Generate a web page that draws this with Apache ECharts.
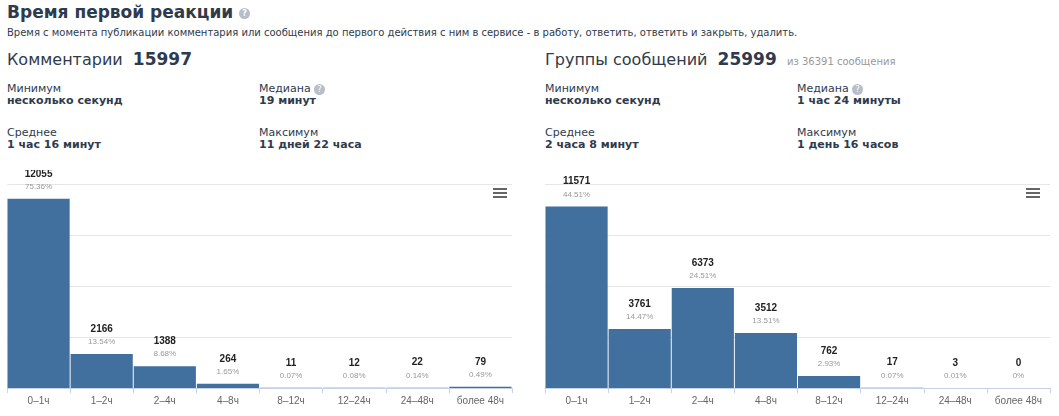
<!DOCTYPE html>
<html><head><meta charset="utf-8">
<script src="https://cdn.jsdelivr.net/npm/echarts@6/dist/echarts.min.js"></script>
<style>
body{margin:0;width:1059px;height:416px;background:#fff;font-family:Tahoma,"DejaVu Sans",sans-serif;color:#2f3b4c;position:relative;overflow:hidden}
.a{position:absolute;white-space:nowrap}
.h{font-size:17px;font-weight:bold;color:#2f3b4c}
.q{display:inline-block;width:11px;height:11px;border-radius:50%;background:#b8bec7;color:#fff;font-size:8px;text-align:center;line-height:11px;vertical-align:middle}
.sub{font-size:10px}
.t{font-size:16px}.t b{font-size:17px}
.t span{font-size:10px;color:#999}
.l{font-size:11px}.v{font-size:11px;font-weight:bold}
.menu{position:absolute;width:14px}
.menu i{display:block;height:2px;background:#666;margin-bottom:2px}
.c{position:absolute;top:170px;height:246px}
</style></head><body>
<div class="a h" style="left:7px;top:2px">Время первой реакции <span class="q">?</span></div>
<div class="a sub" style="left:7px;top:27px">Время с момента публикации комментария или сообщения до первого действия с ним в сервисе - в работу, ответить, ответить и закрыть, удалить.</div>
<div class="a t" style="left:7px;top:49px">Комментарии&nbsp; <b>15997</b></div>
<div class="a t" style="left:545px;top:49px">Группы сообщений&nbsp; <b>25999</b> &nbsp;<span>из 36391 сообщения</span></div>
<div class="a l" style="left:7px;top:82px">Минимум</div><div class="a v" style="left:7px;top:94px">несколько секунд</div>
<div class="a l" style="left:259px;top:82px">Медиана <span class="q">?</span></div><div class="a v" style="left:259px;top:94px">19 минут</div>
<div class="a l" style="left:7px;top:126px">Среднее</div><div class="a v" style="left:7px;top:138px">1 час 16 минут</div>
<div class="a l" style="left:259px;top:126px">Максимум</div><div class="a v" style="left:259px;top:138px">11 дней 22 часа</div>
<div class="a l" style="left:545px;top:82px">Минимум</div><div class="a v" style="left:545px;top:94px">несколько секунд</div>
<div class="a l" style="left:797px;top:82px">Медиана <span class="q">?</span></div><div class="a v" style="left:797px;top:94px">1 час 24 минуты</div>
<div class="a l" style="left:545px;top:126px">Среднее</div><div class="a v" style="left:545px;top:138px">2 часа 8 минут</div>
<div class="a l" style="left:797px;top:126px">Максимум</div><div class="a v" style="left:797px;top:138px">1 день 16 часов</div>
<div id="c1" class="c" style="left:0;width:520px"></div>
<div id="c2" class="c" style="left:538px;width:520px"></div>
<div class="menu" style="left:493px;top:188px"><i></i><i></i><i></i></div>
<div class="menu" style="left:1026px;top:188px"><i></i><i></i><i></i></div>
<script>
var categories = ['0–1ч', '1–2ч', '2–4ч', '4–8ч', '8–12ч', '12–24ч', '24–48ч', 'более 48ч'];
var commentValues = [12055, 2166, 1388, 264, 11, 12, 22, 79];
var commentPercents = ['75.36%', '13.54%', '8.68%', '1.65%', '0.07%', '0.08%', '0.14%', '0.49%'];
var groupValues = [11571, 3761, 6373, 3512, 762, 17, 3, 0];
var groupPercents = ['44.51%', '14.47%', '24.51%', '13.51%', '2.93%', '0.07%', '0.01%', '0%'];
var axisMax = 13000;

function makeChart(id, values, percents) {
    var chart = echarts.init(document.getElementById(id));
    chart.setOption({
        animation: false,
        grid: { left: 7, right: 8, top: 14, bottom: 28 },
        xAxis: {
            type: 'category',
            data: categories,
            axisLine: { lineStyle: { color: '#c6d3e6' } },
            axisTick: { show: true, lineStyle: { color: '#c6d3e6' } },
            axisLabel: { color: '#666', fontSize: 10, margin: 8 }
        },
        yAxis: {
            type: 'value', min: 0, max: axisMax, interval: axisMax / 4,
            axisLabel: { show: false },
            splitLine: { lineStyle: { color: '#e6e6e6' } }
        },
        series: [{
            type: 'bar',
            barCategoryGap: '1.5%',
            itemStyle: { color: '#41709e' },
            data: values,
            label: {
                show: true, position: 'top', distance: 6,
                formatter: function (p) { return '{n|' + p.value + '}\n{p|' + percents[p.dataIndex] + '}'; },
                rich: {
                    n: { fontSize: 10, fontWeight: 'bold', color: '#222', lineHeight: 14 },
                    p: { fontSize: 8, color: '#999', lineHeight: 12 }
                }
            }
        }]
    });
}
makeChart('c1', commentValues, commentPercents);
makeChart('c2', groupValues, groupPercents);
</script>
</body></html>
